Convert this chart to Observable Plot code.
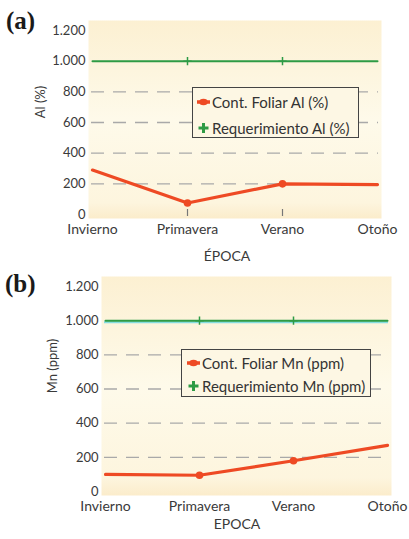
<!DOCTYPE html>
<html>
<head>
<meta charset="utf-8">
<script src="https://cdn.jsdelivr.net/npm/d3@7"></script>
<script src="https://cdn.jsdelivr.net/npm/@observablehq/plot@0.6"></script>
<style>
  html, body { margin: 0; padding: 0; background: #fff; }
  #wrap { position: relative; width: 409px; height: 539px; overflow: hidden; font-family: Lato, "Open Sans", sans-serif; color: #3a3a3a; }
  .panel { position: absolute; left: 0; }
  .tag { position: absolute; font-family: "Liberation Serif", "DejaVu Serif", serif; font-weight: bold; font-size: 25px; color: #1a1a1a; line-height: 1; }
  .atitle { position: absolute; font-size: 14px; transform: translate(-50%, -50%); white-space: nowrap; color: #3a3a3a; }
  .ytitle { font-size: 13px; transform: translate(-50%, -50%) rotate(-90deg); }
  .legend { position: absolute; box-sizing: border-box; border: 1.5px solid #444; background: #fdf7e4; font-size: 15px; color: #333; }
  .legend .row { position: absolute; left: 0; display: flex; align-items: center; white-space: nowrap; transform: translateY(-50%); }
  .legend svg { margin-right: 2px; }
</style>
</head>
<body>
<div id="wrap"></div>
<script>
// ---- data ----
const epocas = ["Invierno", "Primavera", "Verano", "Otoño"];
const alFoliar = [290, 75, 200, 195];
const alRequerimiento = [1000, 1000, 1000, 1000];
const mnFoliar = [100, 95, 180, 270];
const mnRequerimiento = [1000, 1000, 1000, 1000];
const yTicks = [0, 200, 400, 600, 800, 1000, 1200];
const gridValues = [200, 400, 600, 800];
const markedEpocas = ["Primavera", "Verano"];

const orange = "#ee4a24";
const green = "#2e9b45";
const fmt = d => d3.format(",")(d).replace(/,/g, ".");

function addGradient(svg, id) {
  const ns = "http://www.w3.org/2000/svg";
  const defs = document.createElementNS(ns, "defs");
  defs.innerHTML = `<linearGradient id="${id}" x1="0" y1="0" x2="0" y2="1">
      <stop offset="0" stop-color="#fcf0d2"/>
      <stop offset="0.5" stop-color="#fefaea"/>
      <stop offset="0.92" stop-color="#fdf5de"/>
      <stop offset="1" stop-color="#fbeccb"/>
    </linearGradient>`;
  svg.insertBefore(defs, svg.firstChild);
}

function makePanel({foliar, req, height, marginTop, marginBottom, marginLeft, marginRight, gradId, cyan, xticks}) {
  const foliarData = epocas.map((e, i) => ({epoca: e, value: foliar[i]}));
  const reqData = epocas.map((e, i) => ({epoca: e, value: req[i]}));
  const isMarked = d => markedEpocas.includes(d.epoca);
  const svg = Plot.plot({
    width: 409,
    height,
    marginTop, marginBottom, marginLeft, marginRight,
    style: {background: "transparent", fontFamily: "Lato, 'Open Sans', sans-serif", color: "#3a3a3a"},
    x: {type: "point", domain: epocas, padding: 0},
    y: {domain: [0, 1200]},
    marks: [
      Plot.frame({fill: `url(#${gradId})`, stroke: "none", insetTop: -10, insetBottom: -4, insetLeft: -3, insetRight: -3}),
      Plot.ruleY(gridValues, {stroke: "#a9a9a9", strokeWidth: 1.3, strokeDasharray: "13,9"}),
      Plot.axisY({ticks: yTicks, tickSize: 0, tickPadding: 6, tickFormat: fmt, fontSize: 13, label: null}),
      Plot.axisX({tickSize: 0, tickPadding: 10, fontSize: 14, label: null}),
      xticks ? Plot.ruleX(markedEpocas, {x: d => d, y1: 0, y2: 0, insetTop: -5, insetBottom: -2, stroke: "#777", strokeWidth: 1.2}) : null,
      cyan ? Plot.ruleY([1000], {stroke: "#86dde0", strokeWidth: 2, dy: 1.5}) : null,
      Plot.line(reqData, {x: "epoca", y: "value", stroke: green, strokeWidth: 2}),
      Plot.dot(reqData, {filter: isMarked, x: "epoca", y: "value", symbol: "plus", r: 2.8, stroke: green, strokeWidth: 1.5}),
      Plot.line(foliarData, {x: "epoca", y: "value", stroke: orange, strokeWidth: 3.2}),
      Plot.dot(foliarData, {filter: isMarked, x: "epoca", y: "value", r: 3.8, fill: orange})
    ]
  });
  addGradient(svg, gradId);
  return svg;
}

function legendMarker(kind) {
  if (kind === "line") {
    return `<svg width="13" height="10"><line x1="0" y1="5" x2="13" y2="5" stroke="${orange}" stroke-width="3.5"/><ellipse cx="6.5" cy="5" rx="4.2" ry="3.3" fill="${orange}"/></svg>`;
  }
  return `<svg width="13" height="12"><line x1="1.5" y1="6" x2="11.5" y2="6" stroke="${green}" stroke-width="3"/><line x1="6.5" y1="1" x2="6.5" y2="11" stroke="${green}" stroke-width="3"/></svg>`;
}

const wrap = document.getElementById("wrap");

function addPanel(top, svg) {
  const d = document.createElement("div");
  d.className = "panel";
  d.style.top = top + "px";
  d.appendChild(svg);
  wrap.appendChild(d);
}

function addDiv(cls, text, style) {
  const d = document.createElement("div");
  d.className = cls;
  d.textContent = text;
  Object.assign(d.style, style);
  wrap.appendChild(d);
  return d;
}

function addLegend(left, top, w, h, labels, rowYs, padLeft) {
  const lg = document.createElement("div");
  lg.className = "legend";
  Object.assign(lg.style, {left: left + "px", top: top + "px", width: w + "px", height: h + "px"});
  labels.forEach((lab, i) => {
    const r = document.createElement("div");
    r.className = "row";
    r.style.top = rowYs[i] + "px";
    r.style.left = padLeft + "px";
    r.innerHTML = legendMarker(i === 0 ? "line" : "plus") + `<span>${lab}</span>`;
    lg.appendChild(r);
  });
  wrap.appendChild(lg);
}

// Panel (a)
addPanel(0, makePanel({foliar: alFoliar, req: alRequerimiento, height: 265, marginTop: 30, marginBottom: 51, marginLeft: 91, marginRight: 31, gradId: "bgA", cyan: false, xticks: true}));
// Panel (b)
addPanel(265, makePanel({foliar: mnFoliar, req: mnRequerimiento, height: 274, marginTop: 21, marginBottom: 48, marginLeft: 104, marginRight: 21, gradId: "bgB", cyan: true, xticks: false}));

addDiv("tag", "(a)", {left: "6px", top: "8px"});
addDiv("tag", "(b)", {left: "5px", top: "271px"});

addDiv("atitle", "ÉPOCA", {left: "227px", top: "255px"});
addDiv("atitle", "EPOCA", {left: "237px", top: "523px"});
addDiv("atitle ytitle", "Al (%)", {left: "40px", top: "102px"});
addDiv("atitle ytitle", "Mn (ppm)", {left: "52px", top: "366px"});

addLegend(192, 87, 167, 51, ["Cont. Foliar Al (%)", "Requerimiento Al (%)"], [14, 40], 4);
addLegend(181, 349, 190, 48, ["Cont. Foliar Mn (ppm)", "Requerimiento Mn (ppm)"], [13, 36], 5);
</script>
</body>
</html>
